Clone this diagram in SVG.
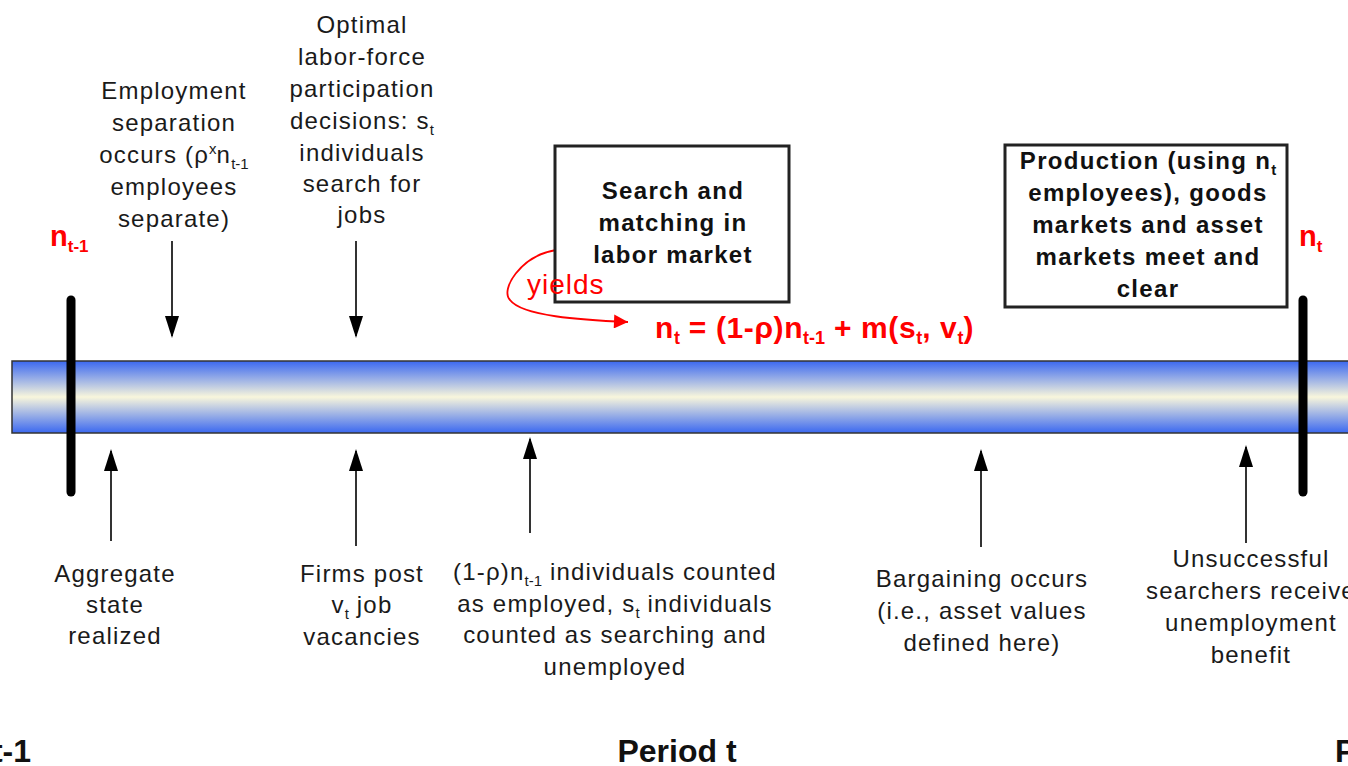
<svg xmlns="http://www.w3.org/2000/svg" width="1348" height="766" viewBox="0 0 1348 766">
<style>
.t{font-family:"Liberation Sans",Arial,sans-serif;font-size:24px;letter-spacing:1.2px;fill:#1a1a1a;text-anchor:middle}
.b{font-family:"Liberation Sans",Arial,sans-serif;font-size:24px;letter-spacing:1.3px;font-weight:bold;fill:#111;text-anchor:middle}
.p{font-family:"Liberation Sans",Arial,sans-serif;font-size:32px;font-weight:bold;fill:#111;text-anchor:middle}
.r{font-family:"Liberation Sans",Arial,sans-serif;font-weight:bold;fill:#ff0000}
.s{font-size:15px;letter-spacing:0}
.rs{font-size:18px;letter-spacing:0}
.box{fill:#fff;stroke:#222;stroke-width:3}
.arr{stroke:#333;stroke-width:2;fill:none;marker-end:url(#ah)}
.tick{stroke:#000;stroke-width:9;stroke-linecap:round}
</style>
<defs>
<linearGradient id="bar" x1="0" y1="0" x2="0" y2="1">
<stop offset="0" stop-color="#3b68f0"/>
<stop offset="0.5" stop-color="#f8f6dc"/>
<stop offset="1" stop-color="#3b68f0"/>
</linearGradient>
<marker id="ah" viewBox="0 0 22 14" refX="20" refY="7" markerWidth="22" markerHeight="14" markerUnits="userSpaceOnUse" orient="auto">
<path d="M0,0 L22,7 L0,14 z" fill="#000"/>
</marker>
<marker id="rh" viewBox="0 0 10 10" refX="10" refY="5" markerWidth="24" markerHeight="14" markerUnits="userSpaceOnUse" orient="auto">
<path d="M0,0 L10,5 L0,10 z" fill="#ff0000"/>
</marker>
</defs>
<rect width="1348" height="766" fill="#fff"/>

<g id="timeline">
<rect x="12" y="361" width="1350" height="72" fill="url(#bar)" stroke="#333" stroke-width="1.5"/>
<line class="tick" x1="71" y1="300" x2="71" y2="492"/>
<line class="tick" x1="1303" y1="300" x2="1303" y2="492"/>
</g>

<g id="connectors">
<line class="arr" x1="172" y1="241" x2="172" y2="336"/>
<line class="arr" x1="356" y1="241" x2="356" y2="336"/>
<line class="arr" x1="111" y1="541" x2="111" y2="451"/>
<line class="arr" x1="356" y1="546" x2="356" y2="451"/>
<line class="arr" x1="530" y1="533" x2="530" y2="439"/>
<line class="arr" x1="981" y1="547" x2="981" y2="451"/>
<line class="arr" x1="1246" y1="543" x2="1246" y2="447"/>
<path d="M556,250 C520,256 500,290 510,300 C522,316 580,320 628,322" stroke="#ff0000" stroke-width="1.8" fill="none" marker-end="url(#rh)"/>
</g>

<g id="n_prev"><text class="r" x="50" y="246" style="font-size:29px">n<tspan style="font-size:17px" dy="6">t-1</tspan></text></g>
<g id="n_now"><text class="r" x="1299" y="246" style="font-size:29px">n<tspan style="font-size:17px" dy="6">t</tspan></text></g>

<g id="separation">
<text class="t" x="174" y="99">Employment</text>
<text class="t" x="174" y="131">separation</text>
<text class="t" x="174" y="163">occurs (ρ<tspan class="s" dy="-9">x</tspan><tspan dy="9">n</tspan><tspan class="s" dy="6">t-1</tspan></text>
<text class="t" x="174" y="195">employees</text>
<text class="t" x="174" y="227">separate)</text>
</g>

<g id="participation">
<text class="t" x="362" y="33">Optimal</text>
<text class="t" x="362" y="65">labor-force</text>
<text class="t" x="362" y="97">participation</text>
<text class="t" x="362" y="129">decisions: s<tspan class="s" dy="6">t</tspan></text>
<text class="t" x="362" y="161">individuals</text>
<text class="t" x="362" y="192">search for</text>
<text class="t" x="362" y="223">jobs</text>
</g>

<g id="search">
<rect class="box" x="555" y="146" width="234" height="156"/>
<text class="b" x="673" y="199">Search and</text>
<text class="b" x="673" y="231">matching in</text>
<text class="b" x="673" y="263">labor market</text>
</g>

<g id="yields"><text x="527" y="294" font-family="Liberation Sans, Arial, sans-serif" font-size="28" letter-spacing="1" fill="#ff0000">yields</text></g>

<g id="equation">
<text class="r" x="655" y="338" style="font-size:30px;letter-spacing:0.6px">n<tspan class="rs" dy="6">t</tspan><tspan dy="-6"> = (1-ρ)n</tspan><tspan class="rs" dy="6">t-1</tspan><tspan dy="-6"> + m(s</tspan><tspan class="rs" dy="6">t</tspan><tspan dy="-6">, v</tspan><tspan class="rs" dy="6">t</tspan><tspan dy="-6">)</tspan></text>
</g>

<g id="production">
<rect class="box" x="1005" y="145" width="282" height="162"/>
<text class="b" x="1148" y="169">Production (using n<tspan class="s" dy="6">t</tspan></text>
<text class="b" x="1148" y="201">employees), goods</text>
<text class="b" x="1148" y="233">markets and asset</text>
<text class="b" x="1148" y="265">markets meet and</text>
<text class="b" x="1148" y="297">clear</text>
</g>

<g id="aggregate">
<text class="t" x="115" y="582">Aggregate</text>
<text class="t" x="115" y="613">state</text>
<text class="t" x="115" y="644">realized</text>
</g>

<g id="firms">
<text class="t" x="362" y="582">Firms post</text>
<text class="t" x="362" y="613">v<tspan class="s" dy="6">t</tspan><tspan dy="-6"> job</tspan></text>
<text class="t" x="362" y="645">vacancies</text>
</g>

<g id="counted">
<text class="t" x="615" y="580">(1-ρ)n<tspan class="s" dy="6">t-1</tspan><tspan dy="-6"> individuals counted</tspan></text>
<text class="t" x="615" y="612">as employed, s<tspan class="s" dy="6">t</tspan><tspan dy="-6"> individuals</tspan></text>
<text class="t" x="615" y="643">counted as searching and</text>
<text class="t" x="615" y="675">unemployed</text>
</g>

<g id="bargaining">
<text class="t" x="982" y="587">Bargaining occurs</text>
<text class="t" x="982" y="619">(i.e., asset values</text>
<text class="t" x="982" y="651">defined here)</text>
</g>

<g id="unsuccessful">
<text class="t" x="1251" y="567">Unsuccessful</text>
<text class="t" x="1251" y="599">searchers receive</text>
<text class="t" x="1251" y="631">unemployment</text>
<text class="t" x="1251" y="663">benefit</text>
</g>

<g id="periods">
<text class="p" x="31" y="762" style="text-anchor:end">Period t-1</text>
<text class="p" x="677" y="762">Period t</text>
<text class="p" x="1335" y="762" style="text-anchor:start">Period t+1</text>
</g>
</svg>
